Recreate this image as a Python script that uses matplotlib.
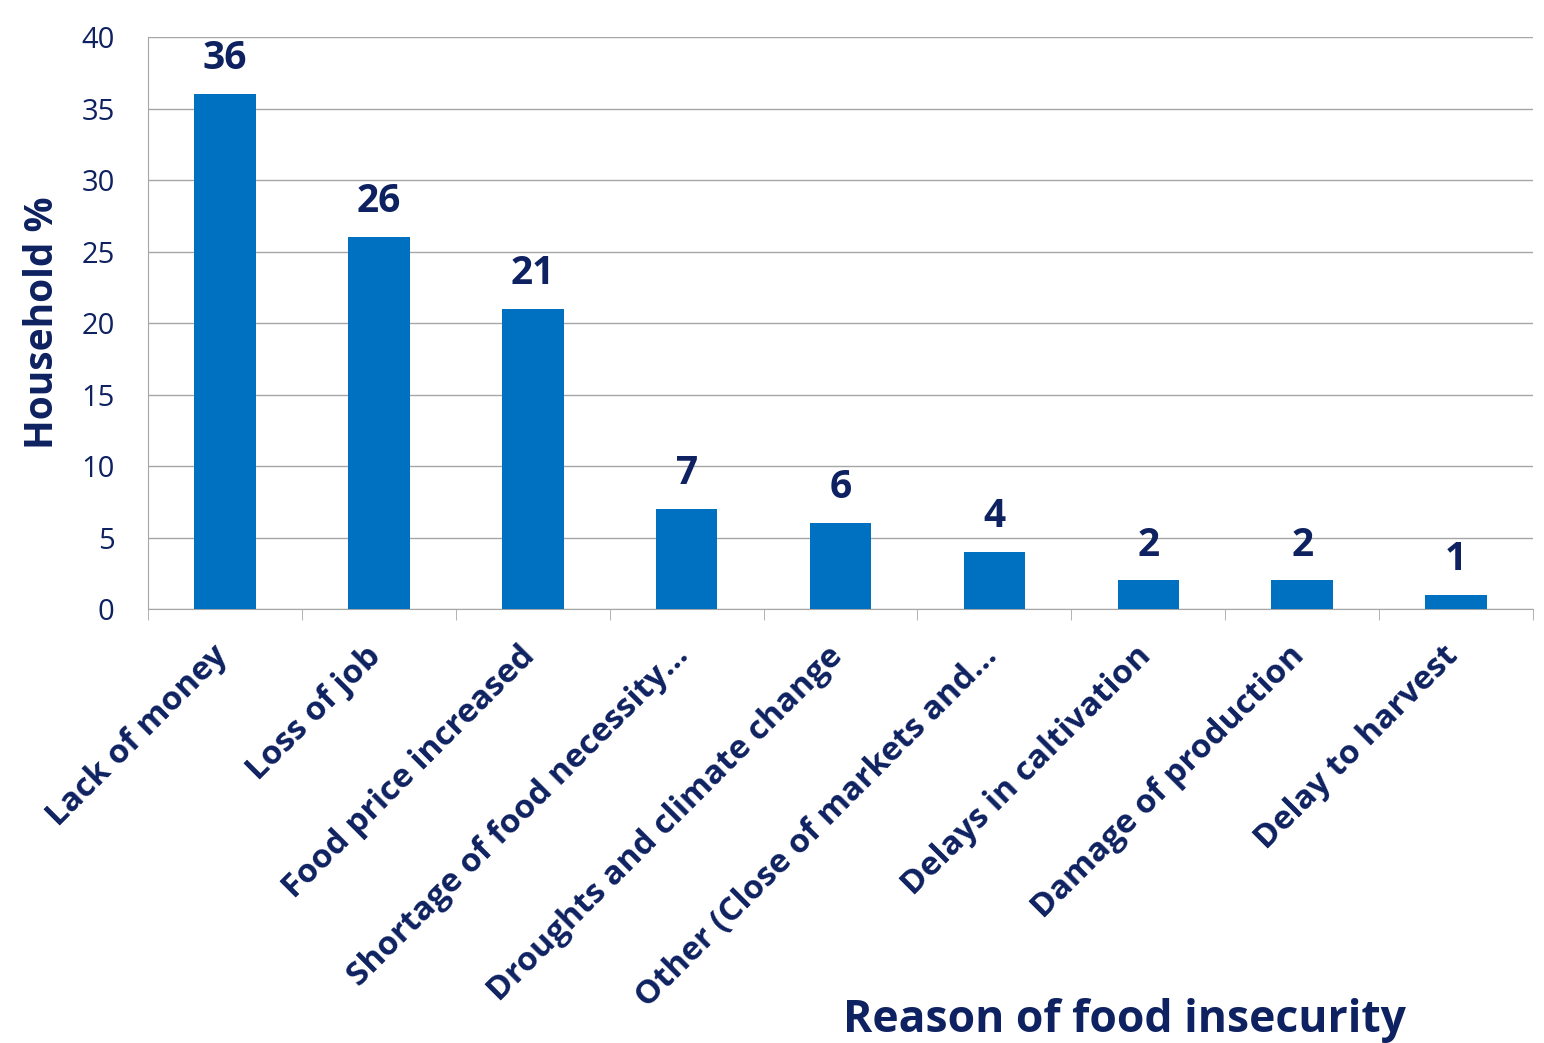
import matplotlib.pyplot as plt
import matplotlib.transforms as mtransforms
import numpy as np

# Data
reasons = ['Lack of money', 'Loss of job', 'Food price increased',
           'Shortage of food necessity…', 'Droughts and climate change',
           'Other (Close of markets and…', 'Delays in caltivation',
           'Damage of production', 'Delay to harvest']
household_pct = [36, 26, 21, 7, 6, 4, 2, 2, 1]

navy = '#0E2160'
bar_color = '#0070C0'
plt.rcParams['font.family'] = ['Open Sans', 'DejaVu Sans']

fig = plt.figure(figsize=(15.44, 10.43), dpi=100)
ax = fig.add_axes([0.0959, 0.4161, 0.8970, 0.5484])

x = np.arange(len(reasons))
bars = ax.bar(x, household_pct, width=0.4, color=bar_color, zorder=3)

# Value labels above the bars
for xi, v in zip(x, household_pct):
    ax.text(xi, v + 1.1, str(v), ha='center', va='bottom',
            fontsize=28, fontweight='bold', color=navy)

ax.set_xlim(-0.5, len(reasons) - 0.5)
ax.set_ylim(0, 40)
ax.set_yticks(range(0, 41, 5))
ax.tick_params(axis='y', labelsize=21, labelcolor=navy, length=0, pad=24)
ax.yaxis.grid(True, color='#A6A6A6', linewidth=1, zorder=0)

# Category labels, tick marks between categories
ax.set_xticks(x)
ax.set_xticklabels(reasons, rotation=45, ha='right', rotation_mode='anchor',
                   fontsize=24, fontweight='bold', color=navy)
ax.tick_params(axis='x', which='major', length=0, pad=22)
shift = mtransforms.ScaledTranslation(-14 / 100, 0, fig.dpi_scale_trans)
for lbl in ax.get_xticklabels():
    lbl.set_transform(lbl.get_transform() + shift)
ax.set_xticks(np.arange(-0.5, len(reasons), 1), minor=True)
ax.tick_params(axis='x', which='minor', length=8, color='#A6A6A6')

for side in ['top', 'right']:
    ax.spines[side].set_visible(False)
ax.spines['left'].set_color('#A6A6A6')
ax.spines['bottom'].set_color('#A6A6A6')

ax.set_ylabel('Household %', fontsize=28, fontweight='bold', color=navy)
ax.yaxis.set_label_coords(-0.062, 0.5)
fig.text(0.728, 0.022, 'Reason of food insecurity', ha='center', va='center',
         fontsize=32, fontweight='bold', color=navy)

plt.savefig('out.png', dpi=100)
